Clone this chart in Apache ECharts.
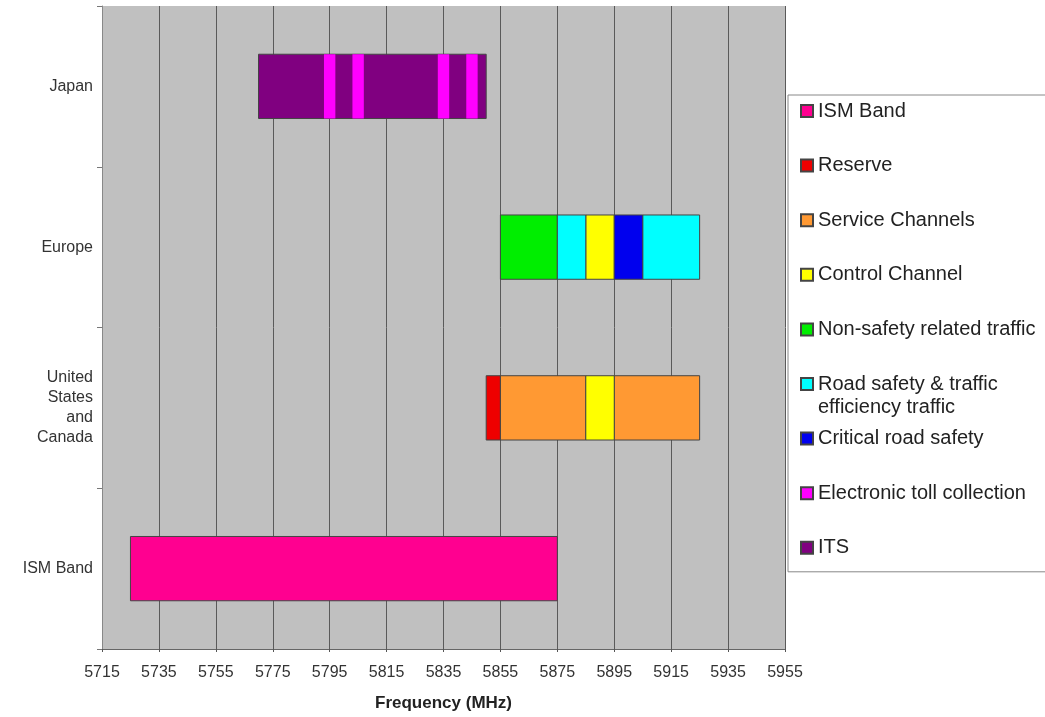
<!DOCTYPE html>
<html>
<head>
<meta charset="utf-8">
<script src="https://cdn.jsdelivr.net/npm/echarts@6/dist/echarts.min.js"></script>
<style>
  html, body { margin: 0; padding: 0; background: #ffffff; }
  #chart { width: 1045px; height: 717px; }
</style>
</head>
<body>
<div id="chart"></div>
<script>
// Regions, bottom to top on the category axis
const categories = ['ISM Band', 'United\nStates\nand\nCanada', 'Europe', 'Japan'];

// Frequency axis (MHz)
const axisStart = 5715;
const axisStep = 20;
const tickLabels = ['5715', '5735', '5755', '5775', '5795', '5815', '5835',
                    '5855', '5875', '5895', '5915', '5935', '5955'];

// Allocated spans per band type: [start MHz, end MHz, region index]
const ismBand = [[5725, 5875, 0]];
const reserve = [[5850, 5855, 1]];
const serviceChannels = [[5855, 5885, 1], [5895, 5925, 1]];
const controlChannel = [[5885, 5895, 1], [5885, 5895, 2]];
const nonSafetyTraffic = [[5855, 5875, 2]];
const roadSafetyTraffic = [[5875, 5885, 2], [5905, 5925, 2]];
const criticalRoadSafety = [[5895, 5905, 2]];
const electronicToll = [[5793, 5797, 3], [5803, 5807, 3], [5833, 5837, 3], [5843, 5847, 3]];
const its = [[5770, 5850, 3]];

const bandTypes = [
  { name: 'ISM Band', data: ismBand, color: '#ff0090', z: 2 },
  { name: 'Reserve', data: reserve, color: '#ee0000', z: 2 },
  { name: 'Service Channels', data: serviceChannels, color: '#ff9933', z: 2 },
  { name: 'Control Channel', data: controlChannel, color: '#ffff00', z: 2 },
  { name: 'Non-safety related traffic', data: nonSafetyTraffic, color: '#00ee00', z: 2 },
  { name: 'Road safety & traffic', data: roadSafetyTraffic, color: '#00ffff', z: 2 },
  { name: 'Critical road safety', data: criticalRoadSafety, color: '#0000ee', z: 2 },
  { name: 'Electronic toll collection', data: electronicToll, color: '#ff00ff', z: 3, noStroke: true },
  { name: 'ITS', data: its, color: '#800080', z: 1 }
];

// Each span is a rectangle from its start to its end frequency on its region row
function makeRender(noStroke) {
  return function (params, api) {
    const cat = api.value(2);
    const p0 = api.coord([api.value(0), cat]);
    const p1 = api.coord([api.value(1), cat]);
    const h = api.size([0, 1])[1] * 0.4;
    return {
      type: 'rect',
      shape: { x: p0[0], y: p0[1] - h / 2, width: p1[0] - p0[0], height: h },
      style: {
        fill: api.visual('color'),
        stroke: noStroke ? null : '#444444',
        lineWidth: noStroke ? 0 : 1
      }
    };
  };
}

const series = bandTypes.map(b => ({
  name: b.name,
  type: 'custom',
  z: b.z,
  renderItem: makeRender(b.noStroke),
  itemStyle: { color: b.color, borderColor: '#444444', borderWidth: 1 },
  encode: { x: [0, 1], y: 2 },
  data: b.data.map(([s, e, c]) => [s - axisStart, e - axisStart, c])
}));

const font = "'Liberation Sans', Arial, sans-serif";
const chart = echarts.init(document.getElementById('chart'), null, { renderer: 'canvas' });

chart.setOption({
  animation: false,
  backgroundColor: '#ffffff',
  grid: {
    left: 102, right: 260, top: 6, bottom: 64,
    show: true, backgroundColor: '#c0c0c0', borderWidth: 0
  },
  xAxis: {
    type: 'value',
    min: 0,
    max: (tickLabels.length - 1) * axisStep,
    interval: axisStep,
    name: 'Frequency (MHz)',
    nameLocation: 'middle',
    nameGap: 46,
    nameTextStyle: { fontFamily: font, fontSize: 17, fontWeight: 'bold', color: '#222' },
    axisLine: { show: true, lineStyle: { color: '#666666', width: 1 } },
    axisTick: { show: true, length: 3, lineStyle: { color: '#555555' } },
    axisLabel: {
      margin: 16,
      fontFamily: font, fontSize: 16, color: '#333',
      formatter: v => tickLabels[Math.round(v / axisStep)]
    },
    splitLine: { show: true, lineStyle: { color: '#5a5a5a', width: 1 } }
  },
  yAxis: {
    type: 'category',
    data: categories,
    axisLine: { show: true, lineStyle: { color: '#888888', width: 1 } },
    axisTick: { show: true, length: 5, lineStyle: { color: '#777777' } },
    axisLabel: {
      margin: 9,
      fontFamily: font, fontSize: 16, lineHeight: 20, color: '#333', align: 'right'
    },
    splitLine: { show: false }
  },
  legend: {
    orient: 'vertical',
    left: 788,
    top: 95,
    padding: [4, 12, 12, 12],
    itemGap: 30.6,
    itemWidth: 12,
    itemHeight: 12,
    icon: 'rect',
    backgroundColor: '#ffffff',
    borderColor: '#888888',
    borderWidth: 1,
    textStyle: { fontFamily: font, fontSize: 20, lineHeight: 24, color: '#222' },
    data: bandTypes.map(b => b.name),
    selectedMode: false
  },
  graphic: [{
    type: 'text',
    left: 818,
    top: 397,
    z: 100,
    style: { text: 'efficiency traffic', font: "20px 'Liberation Sans', Arial, sans-serif", fill: '#222' }
  }],
  series: series
});
</script>
</body>
</html>
